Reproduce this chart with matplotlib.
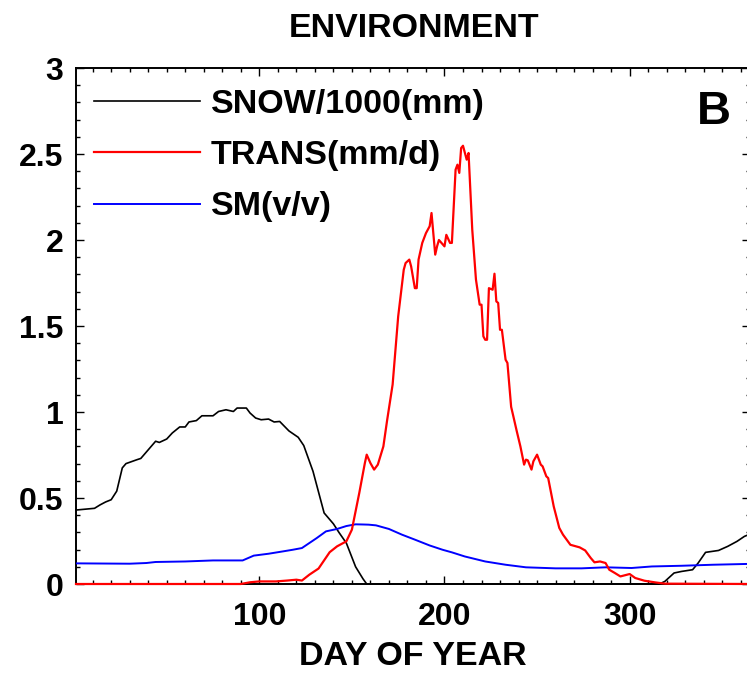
import matplotlib
matplotlib.use('Agg')
import matplotlib.pyplot as plt
from matplotlib.ticker import MultipleLocator

# data (day of year, value)
snow_day = [1, 11, 14, 17, 20, 23, 26, 28, 34, 36, 40, 44, 46, 50, 53, 57, 60, 62,
            66, 69, 75, 78, 82, 86, 88, 93, 95, 98, 101, 105, 108, 111, 116, 121,
            124, 129, 135, 140, 143, 147, 152, 156, 158, 316, 319, 324, 328, 334,
            337, 341, 348, 353, 358, 362, 365]
snow_val = [0.43, 0.44, 0.46, 0.477, 0.49, 0.54, 0.675, 0.70, 0.723, 0.73, 0.78,
            0.83, 0.823, 0.843, 0.878, 0.913, 0.913, 0.942, 0.95, 0.978, 0.978,
            1.003, 1.013, 1.003, 1.023, 1.023, 0.994, 0.965, 0.955, 0.959, 0.942,
            0.945, 0.89, 0.853, 0.805, 0.655, 0.413, 0.35, 0.30, 0.238, 0.10,
            0.03, 0.0, 0.0, 0.015, 0.064, 0.073, 0.083, 0.122, 0.184, 0.195,
            0.219, 0.248, 0.277, 0.29]

trans_day = [1, 90, 95, 100, 109, 115, 120, 123, 127, 132, 138, 142, 147, 150,
             154, 157, 158, 160, 162, 164, 167, 169, 172, 175, 178, 179, 181, 182,
             184, 185, 186, 188, 190, 192, 193, 195, 196, 197, 200, 201, 203, 204,
             206, 207, 208, 209, 210, 212, 213, 215, 217, 219, 220, 221, 222, 223,
             224, 226, 227, 228, 229, 230, 231, 233, 234, 236, 237, 239, 241, 243,
             244, 245, 247, 248, 250, 252, 253, 255, 256, 259, 262, 264, 268, 271,
             273, 276, 279, 281, 284, 287, 289, 292, 295, 300, 303, 308, 314, 319,
             365]
trans_val = [0.0, 0.0, 0.01, 0.015, 0.015, 0.02, 0.025, 0.02, 0.054, 0.09, 0.185,
             0.219, 0.248, 0.316, 0.53, 0.703, 0.752, 0.703, 0.665, 0.694, 0.80,
             0.95, 1.16, 1.556, 1.827, 1.866, 1.886, 1.846, 1.72, 1.72, 1.886,
             1.983, 2.04, 2.08, 2.157, 1.915, 1.963, 2.0, 1.963, 2.03, 1.983,
             1.983, 2.409, 2.438, 2.39, 2.535, 2.548, 2.467, 2.506, 2.06, 1.77,
             1.624, 1.624, 1.44, 1.42, 1.42, 1.72, 1.711, 1.804, 1.643, 1.634,
             1.478, 1.478, 1.304, 1.285, 1.03, 0.984, 0.89, 0.80, 0.694, 0.723,
             0.719, 0.665, 0.713, 0.752, 0.694, 0.684, 0.626, 0.616, 0.451, 0.326,
             0.287, 0.228, 0.219, 0.213, 0.195, 0.151, 0.126, 0.131, 0.122, 0.083,
             0.064, 0.044, 0.058, 0.035, 0.019, 0.009, 0.002, 0.0]

sm_day = [1, 30, 39, 44, 60, 75, 91, 97, 105, 113, 118, 123, 131, 136, 142, 147,
          152, 156, 159, 163, 170, 177, 184, 192, 199, 204, 211, 222, 233, 244,
          260, 274, 287, 301, 312, 328, 345, 365]
sm_val = [0.12, 0.118, 0.122, 0.128, 0.131, 0.137, 0.137, 0.165, 0.176, 0.19,
          0.199, 0.209, 0.267, 0.306, 0.32, 0.337, 0.347, 0.346, 0.345, 0.341,
          0.32, 0.287, 0.258, 0.224, 0.199, 0.184, 0.16, 0.131, 0.112, 0.097,
          0.091, 0.091, 0.097, 0.093, 0.102, 0.106, 0.112, 0.117]

labels = ['SNOW/1000(mm)', 'TRANS(mm/d)', 'SM(v/v)']
colors = ['black', 'red', 'blue']

plt.rcParams['font.family'] = 'Liberation Sans'
plt.rcParams['font.weight'] = 'bold'
ftsize = 24.5

W, H = 747, 674
fig = plt.figure(figsize=(W / 100.0, H / 100.0), dpi=100)

# axes box in pixels (right spine sits just past the image edge)
ax_left, ax_right, ax_top, ax_bottom = 76, 750, 68, 584
ax = fig.add_axes([ax_left / W, 1 - ax_bottom / H,
                   (ax_right - ax_left) / W, (ax_bottom - ax_top) / H])

# lines above the spines so the zero parts show on the bottom axis
ax.plot(snow_day, snow_val, color=colors[0], lw=1.2, label=labels[0],
        clip_on=False, zorder=3)
ax.plot(trans_day, trans_val, color=colors[1], lw=1.6, label=labels[1],
        clip_on=False, zorder=4)
ax.plot(sm_day, sm_val, color=colors[2], lw=1.4, label=labels[2], zorder=3)

ax.set_xlim(1, 365)
ax.set_ylim(0, 3)
ax.xaxis.set_major_locator(MultipleLocator(100))
ax.xaxis.set_minor_locator(MultipleLocator(10))
ax.yaxis.set_major_locator(MultipleLocator(0.5))
ax.yaxis.set_minor_locator(MultipleLocator(0.1))
ax.set_yticks([0, 0.5, 1, 1.5, 2, 2.5, 3])
ax.set_yticklabels(['0', '0.5', '1', '1.5', '2', '2.5', '3'])
ax.tick_params(which='both', direction='in', top=True, right=True, width=1.0)
ax.tick_params(which='major', length=5.5)
ax.tick_params(which='minor', length=3)
ax.tick_params(axis='x', labelsize=23, pad=13)
ax.tick_params(axis='y', labelsize=23, pad=9)
for s in ax.spines.values():
    s.set_linewidth(1.4)

ax.set_xlabel('DAY OF YEAR', fontsize=ftsize, fontweight='bold', labelpad=6.5)

leg = ax.legend(loc='upper left', bbox_to_anchor=(0.027, 0.96), frameon=False,
                fontsize=ftsize, handlelength=3.1, handletextpad=0.32,
                labelspacing=0.6, borderpad=0, borderaxespad=0)

ax.text(0.947, 0.914, 'B', transform=ax.transAxes, fontsize=34,
        fontweight='bold', ha='center', va='center')

fig.text(414 / W, 1 - 28.5 / H, 'ENVIRONMENT', fontsize=ftsize,
         fontweight='bold', ha='center', va='center')

fig.savefig('out.png', dpi=100)
